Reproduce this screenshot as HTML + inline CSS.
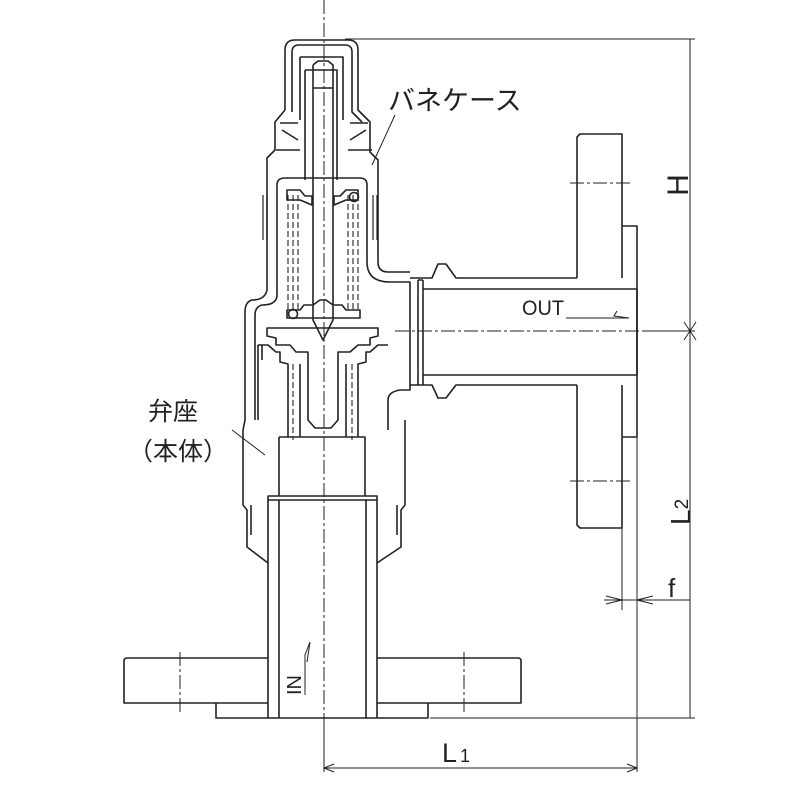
<!DOCTYPE html>
<html><head><meta charset="utf-8"><style>
html,body{margin:0;padding:0;background:#fff;}
svg{display:block;}
text{font-family:"Liberation Sans","Noto Sans CJK JP",sans-serif;fill:#222;}
</style></head><body>
<svg width="800" height="800" viewBox="0 0 800 800" xmlns="http://www.w3.org/2000/svg">
<g fill="none" stroke="#222" stroke-width="1.6" stroke-linejoin="round">
<!-- Cap -->
<path d="M285 110 V50 Q285 40 295 40 H348 Q358 40 358 50 V110 L370 122 V152 L378 160 V262 Q378 272 388 272 H410"/>
<path d="M292 112 V52 Q292 45 299 45 H345 Q352 45 352 52 V112 L362 122"/>
<path d="M285 110 L275 122 V150 L267 158 V290 Q265 300 252 300 Q245 302 245 312 V420"/>
<path d="M300 57 H343 V120 M300 57 V120"/>
<path d="M305 70 H337 V180 M305 70 V180"/>
<!-- stem -->
<path d="M313 65 L318 61 H328 L333 65 V305 M313 65 V305"/>
<path d="M313 88 H333"/>
<path d="M280 123 H298 M350 123 H368 M282 130 L298 140 M366 130 L350 140 M276 150 H300 M348 150 H372"/>
<!-- spring case inner -->
<path d="M277 295 V185 Q277 178 285 178 H360 Q367 178 367 185 V262 Q367 282 390 282 H410 V390 H400 Q388 392 388 400 V430"/>
<path d="M277 295 Q277 305 262 305 Q255 307 255 315 V420"/>
<path d="M263 195 V240 M267 195 V240 M373 195 V240 M377 195 V240" stroke-width="1.2"/>
<!-- upper spring seat -->
<path d="M287 190 H300 L305 196 H312 V205 L300 200 H287 Z M358 190 H346 L340 196 H334 V205 L346 200 H358 Z"/>
<circle cx="354" cy="197" r="4.5"/>
<!-- lower spring seat -->
<path d="M287 310 H300 L304 305 H313 L320 300 H326 L333 305 H342 L346 310 H360 V318 H287 Z"/>
<circle cx="293" cy="314" r="4.5"/>
<path d="M313 305 V320 L323 340 L333 320 V305"/>
<!-- disc holder -->
<path d="M267 328 H378 V336 L370 338 V345 L358 345 L350 352 H338 V420 L331 428 H315 L308 420 V352 H296 L290 345 H276 V338 L267 336 Z"/>
<path d="M258 345 H268 L276 352 L280 352 V362 L288 364 V437 M388 345 H378 L370 352 L366 352 V362 L358 364 V437"/>
<path d="M258 345 V420 M262 345 V360"/>
<path d="M300 364 V437 M346 364 V437"/>
<!-- seat block -->
<path d="M279 437 H365 V496 M279 437 V496"/>
<!-- body lower -->
<path d="M245 420 L243 430 V505 L247 510 V547 L268 563 M405 420 V430 L405 505 L401 510 V547 L377 563"/>
<path d="M251 505 V535 M397 505 V535"/>
<path d="M268 496 H377 V500 H268 Z"/>
<!-- inlet pipe -->
<path d="M268 500 V718 M279 500 V718 M366 500 V718 M377 500 V718"/>
<!-- bottom flange -->
<path d="M268 658 H127 Q124 658 124 661 V703 H268 M377 658 H518 Q521 658 521 661 V703 H377"/>
<path d="M216 703 V718 H428 V703"/>
<!-- outlet -->
<path d="M410 278 H432 L438 264 H446 L456 278 H577 M410 385 H432 L438 398 H446 L456 385 H577"/>
<path d="M418 280 V385 M423 280 V385 M418 280 H423"/>
<path d="M423 289 H637 M423 375 H637 M637 289 V375"/>
<path d="M577 278 V137 L580 134 H622 V278 M577 385 V525 L580 528 H622 V385"/>
<path d="M622 226 H637 V437 H622"/>
</g>
<g stroke="#222" stroke-width="1.1" stroke-dasharray="6,3" fill="none">
<path d="M288 195 V310 M293 195 V310 M298 195 V310 M348 195 V310 M353 195 V310 M358 195 V310"/>
<path d="M293 364 V440 M352 364 V440"/>
</g>
<g stroke="#222" stroke-width="1" stroke-dasharray="14,3,3,3" fill="none">
<path d="M324 0 V720"/>
<path d="M395 331 H645"/>
<path d="M570 183 H630 M570 481 H630"/>
<path d="M180 652 V712 M464 652 V712"/>
</g>
<g stroke="#222" stroke-width="1" fill="none">
<path d="M345 39 H695 M430 718 H695 M690 39 V718"/>
<path d="M645 331 H695"/>
<path d="M684 322 L690 331 L696 322 M684 340 L690 331 L696 340"/>
<path d="M324 718 V772 M637 437 V772 M324 768 H637"/>
<path d="M334 764 L324 768 L334 772 M627 764 L637 768 L627 772"/>
<path d="M622 528 V610 M637 437 V610"/>
<path d="M604 600 H690 M606 596 L622 600 L606 604 M653 596 L637 600 L653 604"/>
<path d="M395 115 L372 165 M232 430 L265 455"/>
<path d="M566 318 H629 L614 316 L617 311"/>
<path d="M305 695 V655 L310 642 L307 662"/>
</g>
<text x="388" y="110" font-size="27">バネケース</text>
<text x="148" y="420" font-size="25">弁座</text>
<text x="128" y="460" font-size="25">（本体）</text>
<text x="522" y="315" font-size="21" textLength="42" lengthAdjust="spacingAndGlyphs">OUT</text>
<text font-size="30" transform="translate(688,185) rotate(-90)" text-anchor="middle">H</text>
<text font-size="28" transform="translate(690,525) rotate(-90)">L<tspan font-size="19" dy="-2">2</tspan></text>
<text x="668" y="597" font-size="26">f</text>
<text x="442" y="762" font-size="27">L<tspan font-size="18" dx="3">1</tspan></text>
<text font-size="20" transform="translate(301,695) rotate(-90)">IN</text>
</svg>
</body></html>
